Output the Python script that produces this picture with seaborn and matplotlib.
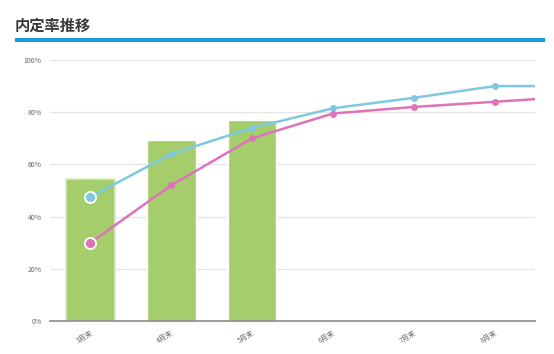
import numpy as np
import matplotlib
matplotlib.use("Agg")
import matplotlib.pyplot as plt
import seaborn as sns
from matplotlib.patches import Rectangle

# --- Data ---
months = ["3月末", "4月末", "5月末", "6月末", "7月末", "8月末", "9月末"]
bar_months = ["3月末", "4月末", "5月末"]
bar_values = [54.5, 69.5, 77.0]
blue_values = [47.5, 64.0, 74.0, 81.5, 85.5, 90.0, 90.0]
pink_values = [30.0, 52.0, 70.0, 79.5, 82.0, 84.0, 86.0]
yticks = [0, 20, 40, 60, 80, 100]

GREEN = "#a6cd6b"
BLUE = "#7fc8df"
PINK = "#de73b8"

sns.set_theme(style="white")
plt.rcParams["font.family"] = ["Noto Sans CJK JP", "DejaVu Sans"]

fig = plt.figure(figsize=(5.54, 3.54), dpi=100)
ax = fig.add_axes([50 / 554, 1 - 321 / 354, 485 / 554, 261 / 354])

sns.barplot(x=bar_months, y=bar_values, order=months[:6], color=GREEN,
            saturation=1, width=0.6, ax=ax, zorder=2)
# first bar has a light inner outline
first = ax.patches[0]
first.set_edgecolor("#d9edc4")
first.set_linewidth(1.2)

x = np.arange(len(months))
sns.lineplot(x=x, y=blue_values, color=BLUE, lw=1.8, marker="o", ms=5,
             markeredgewidth=0, ax=ax, zorder=3)
sns.lineplot(x=x, y=pink_values, color=PINK, lw=1.8, marker="o", ms=5,
             markeredgewidth=0, ax=ax, zorder=3)
# highlighted first points
ax.plot(0, blue_values[0], "o", ms=8, color=BLUE, mec="white", mew=1.3, zorder=4)
ax.plot(0, pink_values[0], "o", ms=8, color=PINK, mec="white", mew=1.3, zorder=4)
for line in ax.lines:
    line.set_clip_on(True)
    line.set_clip_path(ax.patch)

ax.set_xlim(-0.5, 5.5)
ax.set_ylim(0, 100)
ax.set_yticks(yticks)
ax.set_yticklabels([f"{v}%" for v in yticks], fontsize=5, color="#666666")
ax.set_xticks(range(6))
ax.set_xticklabels(months[:6], fontsize=5, color="#666666", rotation=30,
                   ha="right", rotation_mode="anchor")
ax.tick_params(axis="both", length=0, pad=6)
ax.grid(axis="y", color="#e6e6e6", lw=1, zorder=0)
ax.set_axisbelow(True)
ax.set_xlabel("")
ax.set_ylabel("")
for s in ["top", "right", "left"]:
    ax.spines[s].set_visible(False)
ax.spines["bottom"].set_color("#8a8a8a")
ax.spines["bottom"].set_linewidth(1.2)

# title and underline
fig.text(15 / 554, 1 - 26 / 354, "内定率推移", fontsize=11, fontweight="bold",
         color="#3a3a3a", va="center", ha="left")
fig.add_artist(Rectangle((15 / 554, 1 - 42 / 354), 530 / 554, 4 / 354,
                         transform=fig.transFigure, color="#169fd6", lw=0))

fig.savefig("out.png", dpi=100)
